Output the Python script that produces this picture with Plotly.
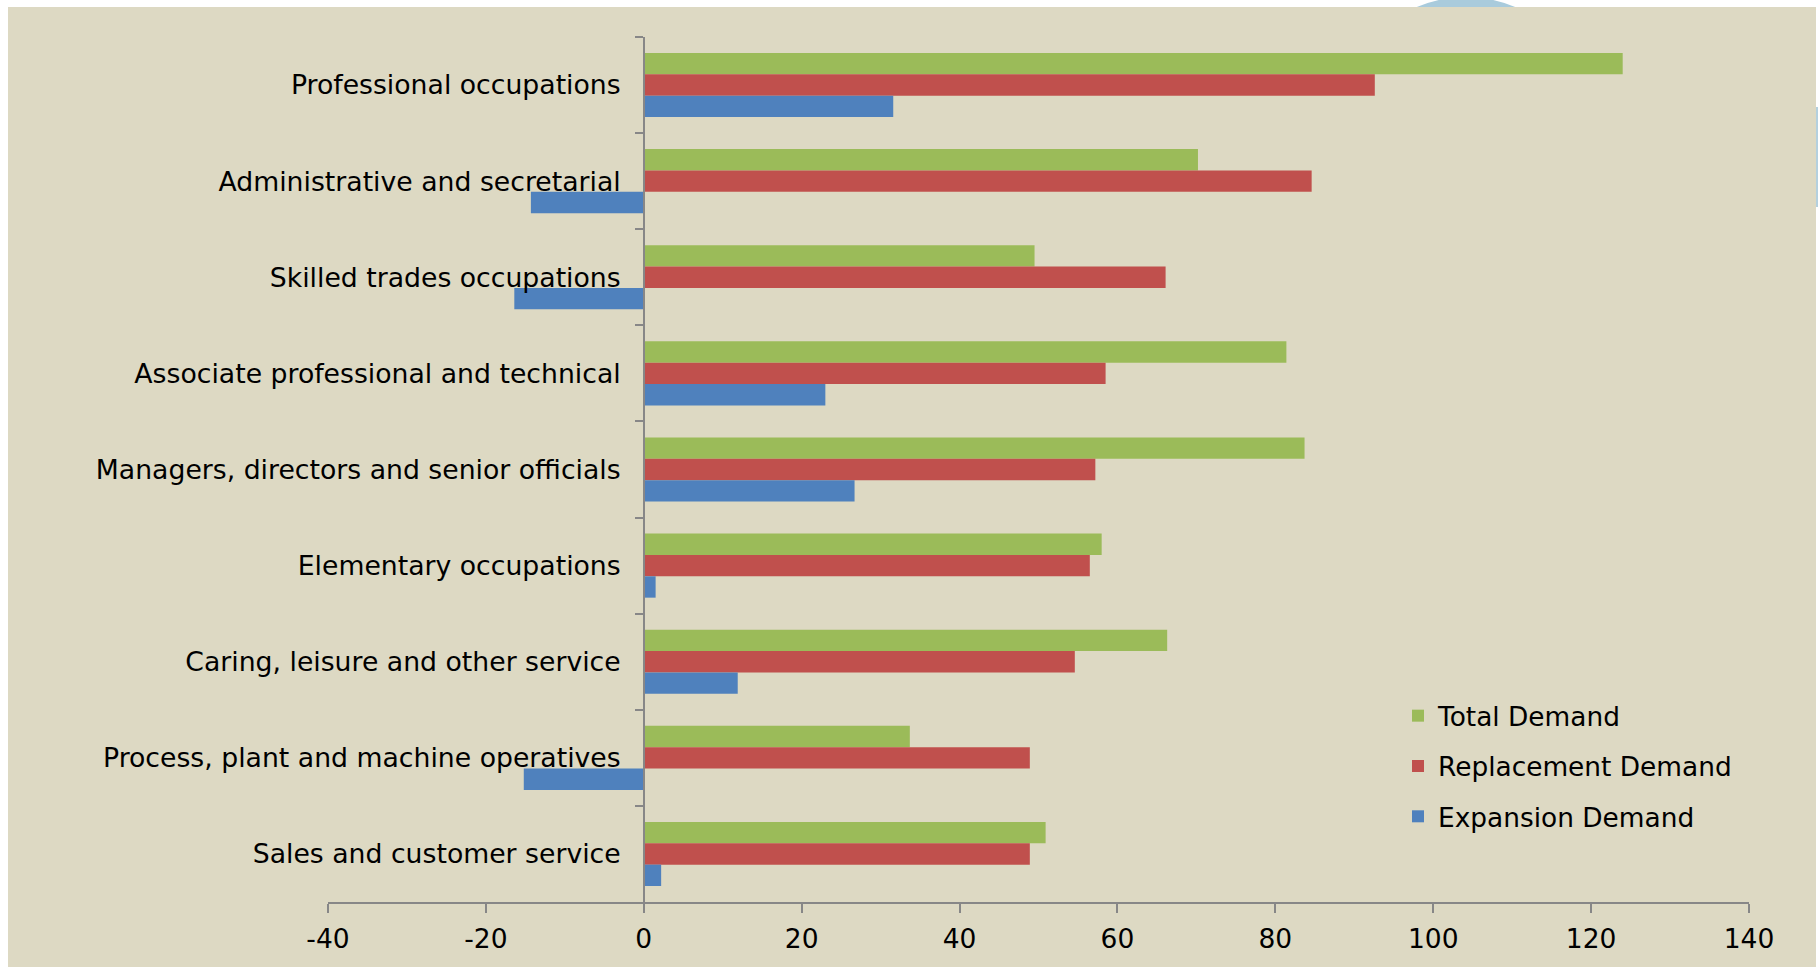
import plotly.graph_objects as go

categories = [
    "Professional occupations",
    "Administrative and secretarial",
    "Skilled trades occupations",
    "Associate professional and technical",
    "Managers, directors and senior officials",
    "Elementary occupations",
    "Caring, leisure and other service",
    "Process, plant and machine operatives",
    "Sales and customer service",
]
total_demand = [124.0, 70.2, 49.5, 81.4, 83.7, 58.0, 66.3, 33.7, 50.9]
replacement_demand = [92.6, 84.6, 66.1, 58.5, 57.2, 56.5, 54.6, 48.9, 48.9]
expansion_demand = [31.6, -14.3, -16.4, 23.0, 26.7, 1.5, 11.9, -15.2, 2.2]
x_ticks = [-40, -20, 0, 20, 40, 60, 80, 100, 120, 140]

FONT = "DejaVu Sans"
AXIS = "#878787"

fig = go.Figure()
series = [
    ("Total Demand", total_demand, "#9BBB59"),
    ("Replacement Demand", replacement_demand, "#C0504D"),
    ("Expansion Demand", expansion_demand, "#4F81BD"),
]
for name, vals, col in series:
    fig.add_trace(go.Bar(
        y=categories, x=vals, name=name, orientation="h",
        marker=dict(color=col, line=dict(width=0)),
        legendgroup=name,
    ))

# plot area occupies x 328..1749, y 37..902
PL, PB = 328, 902
shapes = [
    # decorative pieces peeking outside the tan panel
    dict(type="circle", xref="paper", yref="paper", xsizemode="pixel", ysizemode="pixel",
         xanchor=0, yanchor=0, x0=1466 - PL - 125, x1=1466 - PL + 125,
         y0=PB - 122 - 125, y1=PB - 122 + 125,
         fillcolor="#A9CBDC", line=dict(width=0), layer="below"),
    dict(type="rect", xref="paper", yref="paper", xsizemode="pixel", ysizemode="pixel",
         xanchor=0, yanchor=0, x0=1810 - PL, x1=1830 - PL,
         y0=PB - 207, y1=PB - 107,
         fillcolor="#B4D0DE", line=dict(width=0), layer="below"),
    # tan panel
    dict(type="rect", xref="paper", yref="paper", xsizemode="pixel", ysizemode="pixel",
         xanchor=0, yanchor=0, x0=8 - PL, x1=1816 - PL,
         y0=PB - 990, y1=PB - 7,
         fillcolor="#DDD9C3", line=dict(width=0), layer="below"),
]

fig.update_layout(
    width=1818, height=967,
    margin=dict(l=328, r=69, t=37, b=65, pad=0),
    paper_bgcolor="white",
    plot_bgcolor="rgba(0,0,0,0)",
    barmode="group",
    bargap=0.333,
    bargroupgap=0,
    font=dict(family=FONT, size=26, color="black"),
    shapes=shapes,
    showlegend=True,
    legend=dict(
        x=(1398 - PL) / 1421, y=(PB - 692) / 865,
        xanchor="left", yanchor="top",
        bgcolor="rgba(0,0,0,0)",
        font=dict(family=FONT, size=26.4, color="black"),
        tracegroupgap=13,
        traceorder="grouped",
    ),
    xaxis=dict(
        range=[-40, 140], tickvals=x_ticks, ticktext=[str(v) for v in x_ticks],
        showgrid=False, zeroline=False,
        showline=True, linecolor=AXIS, linewidth=1.5,
        ticks="outside", ticklen=9, tickwidth=1.5, tickcolor=AXIS,
        ticklabelstandoff=3,
        tickfont=dict(family=FONT, size=26.5, color="black"),
        domain=[0, 1],
    ),
    yaxis=dict(
        type="category", autorange="reversed",
        categoryorder="array", categoryarray=categories,
        anchor="free", position=40 / 180,
        showgrid=False, zeroline=False,
        showline=True, linecolor=AXIS, linewidth=1.5,
        ticks="outside", tickson="boundaries", ticklen=8, tickwidth=1.5, tickcolor=AXIS,
        ticklabelstandoff=17,
        tickfont=dict(family=FONT, size=26.7, color="black"),
    ),
)

fig.write_html(
    "out.html",
    config={"displayModeBar": False},
    post_script="document.body.style.margin='0';document.body.style.overflow='hidden';",
)
